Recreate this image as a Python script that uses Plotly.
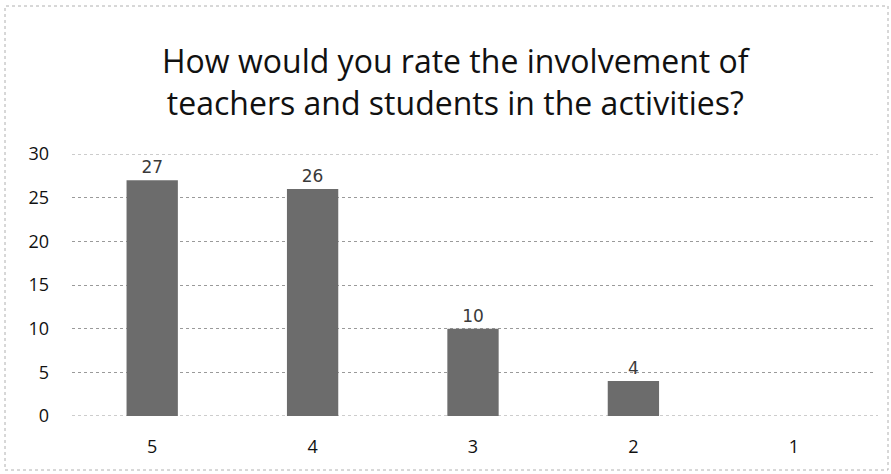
import plotly.graph_objects as go

categories = ["5", "4", "3", "2", "1"]
values = [27, 26, 10, 4, 0]
labels = ["27", "26", "10", "4", ""]
y_ticks = [0, 5, 10, 15, 20, 25, 30]

W, H = 891, 474
L, R, T, B = 72, 17, 154, 58
pw, ph = W - L - R, H - T - B

fig = go.Figure()
fig.add_trace(go.Bar(
    x=categories, y=values,
    marker=dict(color="#6c6c6c", line=dict(width=0)),
    width=0.32,
    text=labels, textposition="outside",
    textfont=dict(family="DejaVu Sans", size=17, color="#3a3a3a"),
    cliponaxis=False,
))

grid = dict(color="#9a9a9a", width=1, dash="dot")
fig.update_layout(
    width=W, height=H,
    margin=dict(l=L, r=R, t=T, b=B),
    paper_bgcolor="white", plot_bgcolor="white",
    showlegend=False,
    title=dict(
        text="How would you rate the involvement of<br>teachers and students in the activities?",
        x=0.511, xanchor="center", y=1 - 73 / H, yanchor="middle",
        font=dict(family="Open Sans", size=32, color="#111111"),
    ),
    xaxis=dict(
        type="category", showgrid=False, showline=False, ticks="",
        tickfont=dict(family="Open Sans", size=18, color="#111111"),
        ticklabelstandoff=18,
    ),
    yaxis=dict(
        range=[0, 30], tickvals=y_ticks,
        showgrid=True, gridcolor="#9a9a9a", griddash="dot", gridwidth=1,
        zeroline=False, showline=False, ticks="",
        tickfont=dict(family="Open Sans", size=18, color="#111111"),
        ticklabelstandoff=22,
    ),
    shapes=[
        dict(type="line", xref="paper", yref="y", x0=0, x1=1.005, y0=0, y1=0,
             line=grid, layer="below"),
        dict(type="line", xref="paper", yref="y", x0=0, x1=1.005, y0=30, y1=30,
             line=grid, layer="below"),
        dict(type="rect", xref="paper", yref="paper",
             x0=(5 - L) / pw, x1=(W - 3 - L) / pw,
             y0=(H - 470 - B) / ph, y1=(H - 6 - B) / ph,
             line=dict(color="#b0b0b0", width=1, dash="dot"), layer="below"),
    ],
)

fig.write_html("out.html", config={"displayModeBar": False},
               post_script="document.body.style.margin='0';document.body.style.overflow='hidden';")
